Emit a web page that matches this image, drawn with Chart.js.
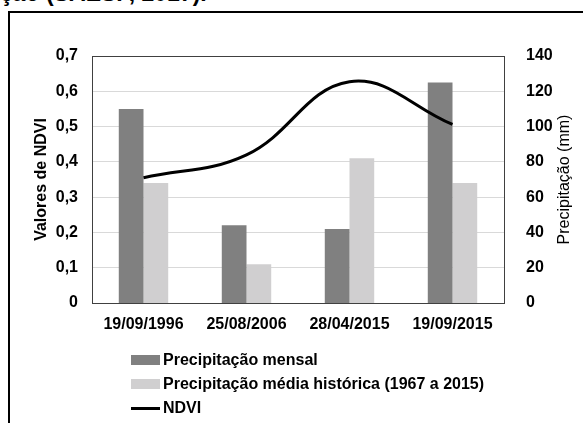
<!DOCTYPE html>
<html>
<head>
<meta charset="utf-8">
<script src="https://cdn.jsdelivr.net/npm/chart.js@4"></script>
<style>
  body { margin: 0; background: #fff; font-family: "Liberation Sans", Arial, sans-serif; }
  #wrap { position: relative; width: 583px; height: 423px; overflow: hidden; background: #fff; }
  #caption { position: absolute; left: 0; top: -20px; font-weight: bold; font-size: 23px; color: #000; white-space: nowrap; }
  #frame { position: absolute; left: 8px; top: 11px; width: 600px; height: 440px; border: 2px solid #000; }
  canvas { position: absolute; left: 0; top: 0; }
  #legend { position: absolute; left: 131px; top: 348px; font-weight: bold; font-size: 16px; color: #000; }
  .item { height: 24px; display: flex; align-items: center; }
  .sw { width: 29px; margin-right: 3px; }
</style>
</head>
<body>
<div id="wrap">
  <div id="caption">ção (SAESP, 2017).</div>
  <div id="frame"></div>
  <canvas id="chart" width="583" height="423"></canvas>
  <div id="legend"></div>
</div>
<script>
// chart values
const categories = ['19/09/1996', '25/08/2006', '28/04/2015', '19/09/2015'];
const precipMensal = [110, 44, 42, 125];
const precipHistorica = [68, 22, 82, 68];
const ndvi = [0.355, 0.42, 0.627, 0.506];

const seriesNames = ['Precipitação mensal', 'Precipitação média histórica (1967 a 2015)', 'NDVI'];
const colors = ['#808080', '#d0cfd0', '#000000'];

// legend as a vertical list under the chart
const legend = document.getElementById('legend');
seriesNames.forEach((name, i) => {
    const row = document.createElement('div');
    row.className = 'item';
    const sw = document.createElement('span');
    sw.className = 'sw';
    sw.style.height = i === 2 ? '3px' : '10px';
    sw.style.background = colors[i];
    row.appendChild(sw);
    row.appendChild(document.createTextNode(name));
    legend.appendChild(row);
});

// box round the plot area and the two axis titles
const framePlugin = {
    id: 'framePlugin',
    afterDraw(chart) {
        const ctx = chart.ctx;
        const a = chart.chartArea;
        ctx.save();
        ctx.strokeStyle = '#404040';
        ctx.lineWidth = 1;
        ctx.strokeRect(a.left + 0.5, a.top + 0.5, a.right - a.left, a.bottom - a.top);
        const midY = (a.top + a.bottom) / 2;
        ctx.fillStyle = '#000';
        ctx.textAlign = 'center';
        ctx.textBaseline = 'middle';
        ctx.font = 'bold 16px "Liberation Sans", Arial, sans-serif';
        ctx.translate(42, midY);
        ctx.rotate(-Math.PI / 2);
        ctx.fillText('Valores de NDVI', 0, 0);
        ctx.restore();
        ctx.save();
        ctx.fillStyle = '#000';
        ctx.textAlign = 'center';
        ctx.textBaseline = 'middle';
        ctx.font = '16px "Liberation Sans", Arial, sans-serif';
        ctx.translate(565, midY);
        ctx.rotate(-Math.PI / 2);
        ctx.fillText('Precipitação (mm)', 0, 0);
        ctx.restore();
    }
};

const tickFont = { family: '"Liberation Sans", Arial, sans-serif', size: 16, weight: 'bold' };

new Chart(document.getElementById('chart'), {
    type: 'bar',
    data: {
        labels: categories,
        datasets: [
            { label: seriesNames[0], data: precipMensal, backgroundColor: colors[0], yAxisID: 'y1', order: 1 },
            { label: seriesNames[1], data: precipHistorica, backgroundColor: colors[1], yAxisID: 'y1', order: 1 },
            { type: 'line', label: seriesNames[2], data: ndvi, borderColor: colors[2], borderWidth: 3,
              tension: 0.4, pointRadius: 0, fill: false, yAxisID: 'y', order: 0 }
        ]
    },
    options: {
        responsive: false,
        animation: false,
        categoryPercentage: 0.48,
        barPercentage: 1,
        layout: { padding: { top: 56, left: 0, right: 0, bottom: 0 } },
        plugins: { legend: { display: false }, tooltip: { enabled: false } },
        scales: {
            x: {
                grid: { display: false, drawTicks: false },
                border: { display: false },
                ticks: { color: '#000', font: tickFont, padding: 12, maxRotation: 0 },
                afterFit(scale) { scale.height = 120; }
            },
            y: {
                position: 'left',
                min: 0, max: 0.7,
                grid: { color: '#d9d9d9', drawTicks: false },
                border: { display: false },
                ticks: {
                    stepSize: 0.1, color: '#000', font: tickFont, padding: 14,
                    callback: v => v === 0 ? '0' : v.toFixed(1).replace('.', ',')
                },
                afterFit(scale) { scale.width = 92; }
            },
            y1: {
                position: 'right',
                min: 0, max: 140,
                grid: { display: false, drawTicks: false },
                border: { display: false },
                ticks: { stepSize: 20, color: '#000', font: tickFont, padding: 22 },
                afterFit(scale) { scale.width = 79; }
            }
        }
    },
    plugins: [framePlugin]
});
</script>
</body>
</html>
